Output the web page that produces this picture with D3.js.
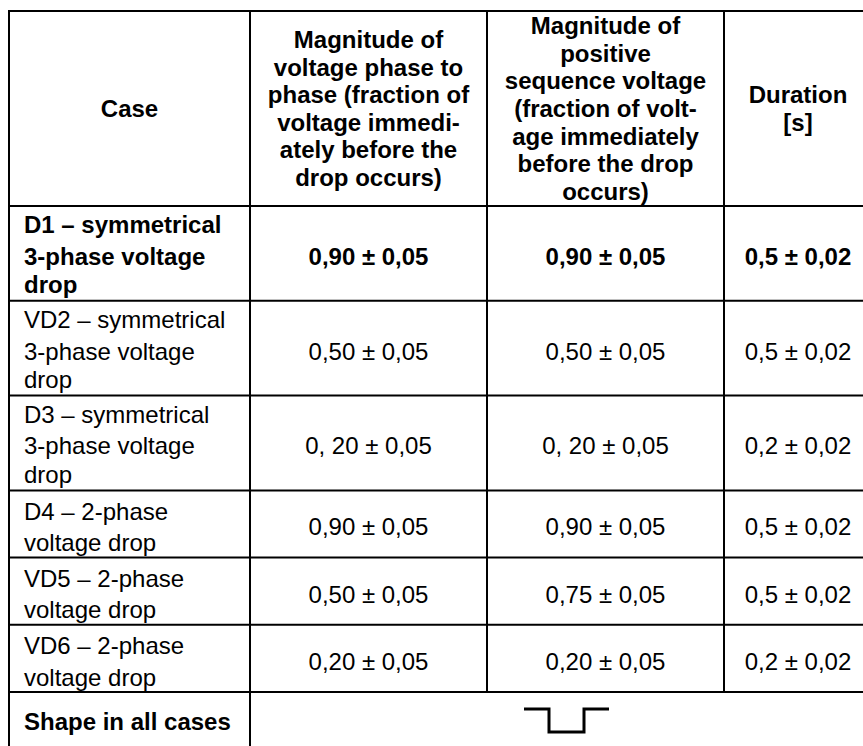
<!DOCTYPE html>
<html>
<meta charset="utf-8">
<style>
body { margin: 0; background: #fff; }
svg text { font-family: "Liberation Sans", Arial, sans-serif; font-size: 24px; fill: #000; }
</style>
<script src="https://d3js.org/d3.v7.min.js"></script>
<body>
<div id="table"></div>
<script>
// table content
var headers = [
    ["Case"],
    ["Magnitude of", "voltage phase to", "phase (fraction of", "voltage immedi-", "ately before the", "drop occurs)"],
    ["Magnitude of", "positive", "sequence voltage", "(fraction of volt-", "age immediately", "before the drop", "occurs)"],
    ["Duration", "[s]"]
];
var cases = [
    ["D1 – symmetrical", "3-phase voltage", "drop"],
    ["VD2 – symmetrical", "3-phase voltage", "drop"],
    ["D3 – symmetrical", "3-phase voltage", "drop"],
    ["D4 – 2-phase", "voltage drop"],
    ["VD5 – 2-phase", "voltage drop"],
    ["VD6 – 2-phase", "voltage drop"]
];
var phaseMagnitude = ["0,90 ± 0,05", "0,50 ± 0,05", "0, 20 ± 0,05", "0,90 ± 0,05", "0,50 ± 0,05", "0,20 ± 0,05"];
var posSeqMagnitude = ["0,90 ± 0,05", "0,50 ± 0,05", "0, 20 ± 0,05", "0,90 ± 0,05", "0,75 ± 0,05", "0,20 ± 0,05"];
var duration = ["0,5 ± 0,02", "0,5 ± 0,02", "0,2 ± 0,02", "0,5 ± 0,02", "0,5 ± 0,02", "0,2 ± 0,02"];
var boldRows = [true, false, false, false, false, false];
var footerLabel = "Shape in all cases";
// drop shape: [time, level]
var dropShape = [[0, 1], [1, 1], [1, 0], [2.4, 0], [2.4, 1], [3.4, 1]];

var width = 863, height = 746;
var colEdges = [9, 250, 487, 724, 872];
var tableTop = 11, headerH = 195, lineH = 27.6, bodyLineH = 31.5;

var svg = d3.select("#table").append("svg")
    .attr("width", width)
    .attr("height", height);

// row boundaries from line counts
var rowEdges = [tableTop, tableTop + headerH];
cases.forEach(function(c) {
    rowEdges.push(rowEdges[rowEdges.length - 1] + 12 + c.length * lineH);
});
var lastEdge = rowEdges[rowEdges.length - 1];

function colMid(i) { return (colEdges[i] + colEdges[i + 1]) / 2; }

// header
headers.forEach(function(lines, i) {
    var cy = (rowEdges[0] + rowEdges[1]) / 2;
    var t = svg.append("text")
        .attr("text-anchor", "middle")
        .attr("font-weight", "bold");
    lines.forEach(function(l, j) {
        t.append("tspan")
            .attr("x", colMid(i))
            .attr("y", cy + (j - (lines.length - 1) / 2) * lineH)
            .attr("dy", "0.35em")
            .text(l);
    });
});

// body rows
cases.forEach(function(lines, r) {
    var y0 = rowEdges[r + 1], y1 = rowEdges[r + 2], cy = (y0 + y1) / 2;
    var t = svg.append("text")
        .attr("font-weight", boldRows[r] ? "bold" : "normal");
    lines.forEach(function(l, j) {
        // last line sits a little tighter, as in the source document
        var off = (j - (lines.length - 1) / 2) * bodyLineH + 3;
        if (lines.length == 3 && j == 2) off -= 3;
        t.append("tspan")
            .attr("x", 24)
            .attr("y", cy + off)
            .attr("dy", "0.35em")
            .text(l);
    });
    [phaseMagnitude, posSeqMagnitude, duration].forEach(function(col, c) {
        svg.append("text")
            .attr("x", colMid(c + 1))
            .attr("y", cy + 3)
            .attr("dy", "0.35em")
            .attr("text-anchor", "middle")
            .attr("font-weight", boldRows[r] ? "bold" : "normal")
            .text(col[r]);
    });
});

// footer
svg.append("text")
    .attr("x", 24)
    .attr("y", lastEdge + 30)
    .attr("dy", "0.35em")
    .attr("font-weight", "bold")
    .text(footerLabel);

var sx = d3.scaleLinear().domain([0, 3.4]).range([524, 609]);
var sy = d3.scaleLinear().domain([0, 1]).range([lastEdge + 40, lastEdge + 17]);
svg.append("path")
    .attr("d", d3.line().x(function(d) { return sx(d[0]); }).y(function(d) { return sy(d[1]); })(dropShape))
    .attr("fill", "none")
    .attr("stroke", "#000")
    .attr("stroke-width", 3);

// grid lines
var grid = svg.append("g").attr("stroke", "#000").attr("stroke-width", 2);
rowEdges.forEach(function(y) {
    grid.append("line").attr("x1", colEdges[0] - 1).attr("x2", width).attr("y1", y).attr("y2", y);
});
grid.append("line").attr("x1", colEdges[0]).attr("x2", colEdges[0]).attr("y1", tableTop).attr("y2", height);
grid.append("line").attr("x1", colEdges[1]).attr("x2", colEdges[1]).attr("y1", tableTop).attr("y2", height);
grid.append("line").attr("x1", colEdges[2]).attr("x2", colEdges[2]).attr("y1", tableTop).attr("y2", lastEdge);
grid.append("line").attr("x1", colEdges[3]).attr("x2", colEdges[3]).attr("y1", tableTop).attr("y2", lastEdge);
</script>
</body>
</html>
